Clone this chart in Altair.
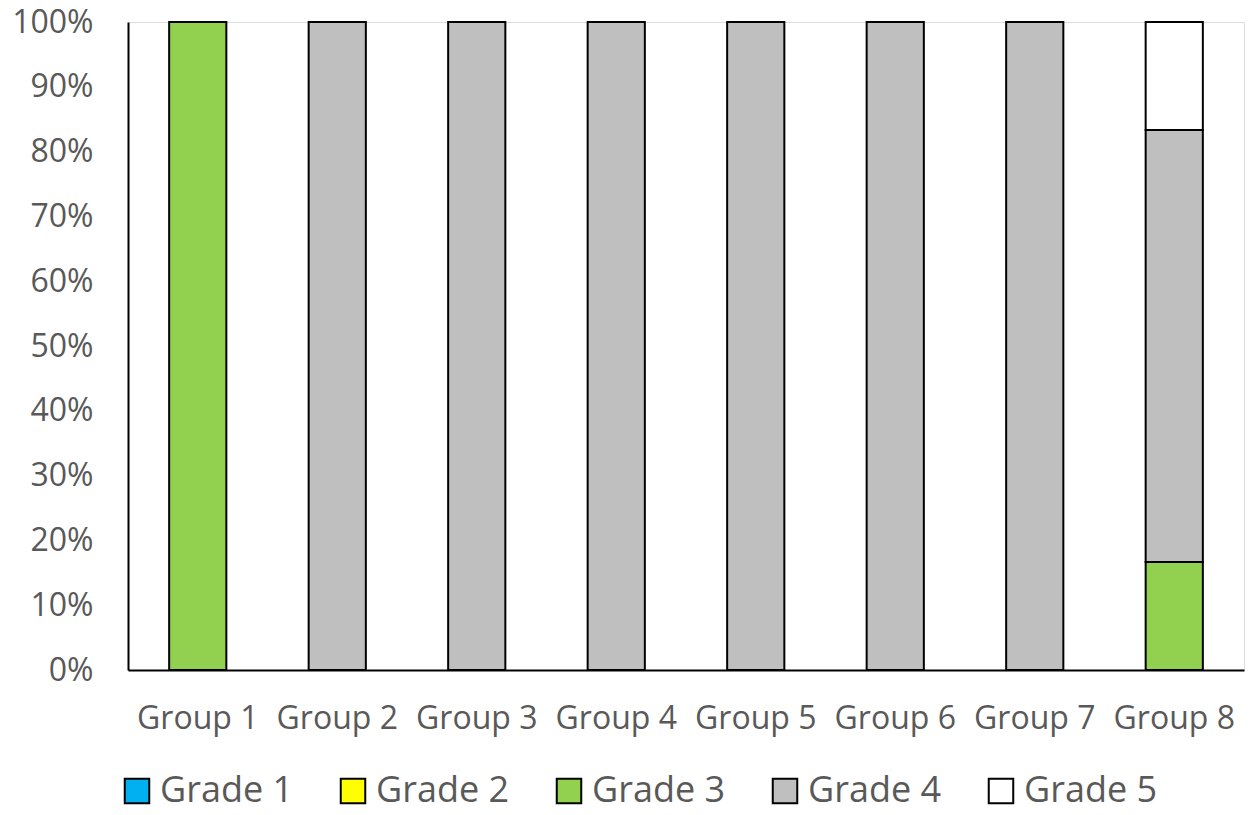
import altair as alt
import pandas as pd

# Share of each grade within every group (fractions of the group total)
groups = ["Group 1", "Group 2", "Group 3", "Group 4", "Group 5", "Group 6", "Group 7", "Group 8"]
grades = ["Grade 1", "Grade 2", "Grade 3", "Grade 4", "Grade 5"]
grade_colors = ["#00B0F0", "#FFFF00", "#92D050", "#BFBFBF", "#FFFFFF"]

grade1 = [0, 0, 0, 0, 0, 0, 0, 0]
grade2 = [0, 0, 0, 0, 0, 0, 0, 0]
grade3 = [1.0, 0, 0, 0, 0, 0, 0, 1 / 6]
grade4 = [0, 1.0, 1.0, 1.0, 1.0, 1.0, 1.0, 4 / 6]
grade5 = [0, 0, 0, 0, 0, 0, 0, 1 / 6]

rows = []
for gi, series in enumerate([grade1, grade2, grade3, grade4, grade5]):
    for grp, val in zip(groups, series):
        rows.append({"group": grp, "grade": grades[gi], "order": gi, "share": val})
df = pd.DataFrame(rows)

FONT = "Open Sans"
LABEL_GRAY = "#595959"

chart = (
    alt.Chart(df)
    .mark_bar(stroke="black", strokeWidth=2)
    .encode(
        x=alt.X(
            "group:N",
            sort=groups,
            title=None,
            scale=alt.Scale(paddingInner=0.59, paddingOuter=0.295),
            axis=alt.Axis(
                labelAngle=0,
                labelFont=FONT,
                labelFontSize=32,
                labelColor=LABEL_GRAY,
                labelPadding=33,
                ticks=False,
                domainColor="black",
                domainWidth=2,
                grid=False,
            ),
        ),
        y=alt.Y(
            "share:Q",
            stack="zero",
            title=None,
            scale=alt.Scale(domain=[0, 1], nice=False),
            axis=alt.Axis(
                format=".0%",
                values=[i / 10 for i in range(11)],
                labelFont=FONT,
                labelFontSize=32,
                labelColor=LABEL_GRAY,
                labelPadding=35,
                ticks=False,
                domainColor="black",
                domainWidth=2,
                grid=False,
            ),
        ),
        color=alt.Color(
            "grade:N",
            scale=alt.Scale(domain=grades, range=grade_colors),
            legend=alt.Legend(
                title=None,
                orient="none",
                direction="horizontal",
                legendX=-9,
                legendY=751,
                symbolType="square",
                symbolSize=600,
                symbolStrokeColor="black",
                symbolStrokeWidth=2,
                symbolOpacity=1,
                labelFont=FONT,
                labelFontSize=36,
                labelColor=LABEL_GRAY,
                labelOffset=5,
                labelLimit=300,
                columnPadding=41,
            ),
        ),
        order=alt.Order("order:Q", sort="ascending"),
    )
    .properties(
        width=1116,
        height=648,
        padding={"left": 128, "top": 22, "right": 12, "bottom": 145},
        autosize=alt.AutoSizeParams(type="none"),
    )
    .configure_view(stroke=None)
    .configure(background="white")
)

chart.save("out.html", embed_options={"renderer": "svg", "actions": False})
